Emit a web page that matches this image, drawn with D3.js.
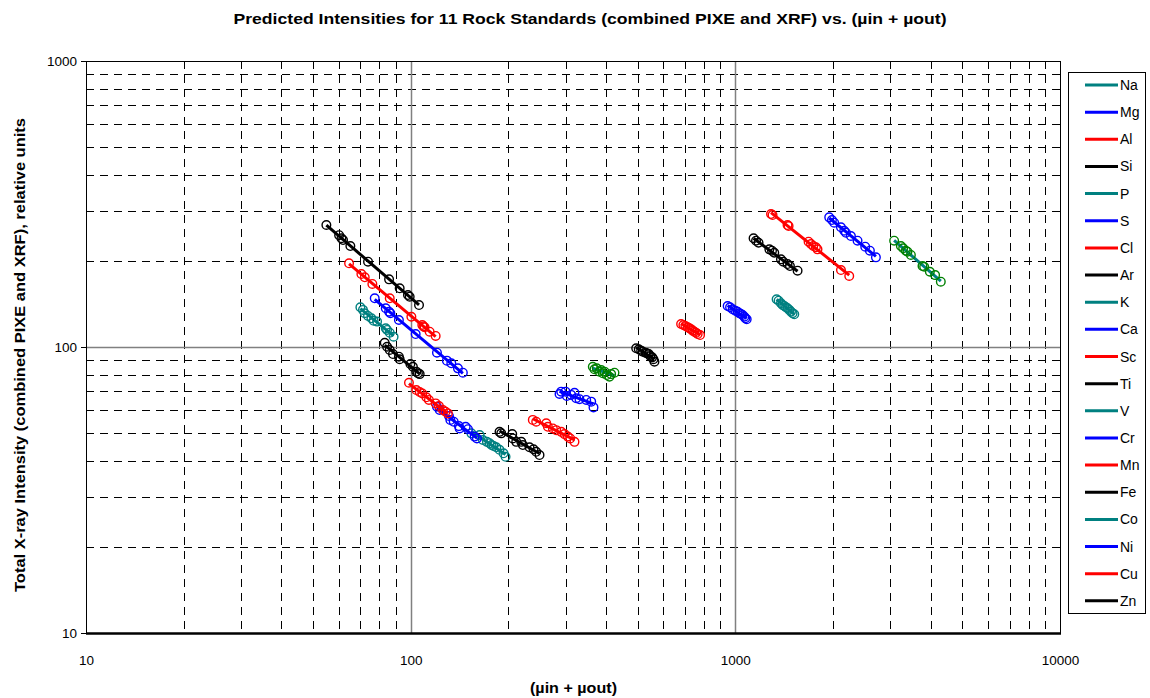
<!DOCTYPE html>
<html>
<head>
<meta charset="utf-8">
<script src="https://cdn.jsdelivr.net/npm/d3@7"></script>
<style>
  html, body { margin: 0; padding: 0; background: #fff; }
  svg { display: block; font-family: "Liberation Sans", Arial, sans-serif; }
</style>
</head>
<body>
<svg id="chart" width="1150" height="698"></svg>
<script>
// ---------------- DATA ----------------
const elements = ["Na","Mg","Al","Si","P","S","Cl","Ar","K","Ca","Sc","Ti","V","Cr","Mn","Fe","Co","Ni","Cu","Zn"];
const lineColors = ["#008080","#0000FF","#FF0000","#000000"];
const markerColorOverride = { "Na": "#008000", "K": "#008000" };

const xTickLabels = ["10","100","1000","10000"];
const yTickLabels = ["10","100","1000"];

// (µin + µout) values per element (11 rock standards)
const xNa = [3084,3235,3288,3351,3390,3473,3771,3816,3973,4124,4294];
const yNa = [235.3,225.4,221.3,217.1,215.4,209.8,191.9,190.8,183.3,178.4,169.2];
const xMg = [1946,1984,2016,2115,2165,2191,2270,2379,2512,2597,2710];
const yMg = [284,277.9,272,262.1,255,251,244.4,235.3,224.2,217.1,205.8];
const xAl = [1288,1302,1448,1459,1681,1710,1738,1771,1791,2115,2243];
const yAl = [291.7,289.3,266.9,264.8,233.4,229.1,225.4,223.1,219.5,185.8,177.1];
const xSi = [1138,1158,1179,1273,1297,1318,1382,1405,1448,1473,1555];
const ySi = [240,235.3,231.5,219.5,217.1,213.6,202.5,198.7,195,191.9,184.8];
const xP  = [1340,1359,1382,1398,1415,1432,1448,1466,1484,1501,1519];
const yP  = [146.9,145.2,142.2,140.2,139.1,137.7,136.6,134.8,132.9,131.2,130.2];
const xS  = [946.9,963.2,981.1,1000,1016,1029,1041,1053,1066,1074,1084];
const yS  = [139.1,137.7,135.5,134,132.9,131.2,130.5,129.4,127.6,126,125];
const xCl = [680.7,691.8,701.7,713.2,721.9,730.6,738.9,747.8,756.9,765.6,778.7];
const yCl = [120.3,119.4,118.4,117.2,116.3,115.3,114.1,113.1,112.2,111,110.1];
const xAr = [495,504.2,512.8,518.7,528.7,533.6,541.2,546.6,554.4,559.5,563.5];
const yAr = [99,98.2,97.1,96.3,95.5,95.1,94.5,93,92,90.6,88.8];
const xK  = [363.9,368.3,374.3,381.5,386.2,390.6,395.3,401.8,409.5,414.5,424.4];
const yK  = [85.3,83.6,84.2,82,83.1,80.9,82,79.8,78.7,80.4,81.3];
const xCa = [287.4,290.9,299.9,302.6,312.2,319.6,323.5,331.1,347.3,359.8,365.7];
const yCa = [68.5,69.8,69.8,67.4,68,69.2,66.2,65.7,65.3,64.4,61.5];
const xSc = [237.8,243.6,261.6,264.6,274.1,280.8,290.9,297.7,304.8,310,319.6];
const ySc = [55.6,54.8,54.1,52.6,51.9,51.2,50.5,49.6,48.6,47.9,46.6];
const xTi = [187.8,190.1,205.5,206.4,211.4,219.1,221.6,232.3,239,243.6,249.4];
const yTi = [50.5,49.9,49.6,47.9,46.6,46.6,45.4,44.6,43.9,43,41.9];
const xV  = [153.8,163.1,166.9,171.7,175,177.5,180,183.5,187.8,193.2,196];
const yV  = [49.9,49.2,47.3,46.6,46.1,45.4,45.1,44.6,43.7,42.5,41.3];
const xCr = [120.5,122.8,131.2,132.5,135.7,140.8,141.5,147.7,150.1,157.4,160];
const yCr = [61.8,60.2,57.4,55.6,54.8,52.9,51.9,52.6,51.6,48.6,47.9];
const xMn = [98.8,104.1,106.6,108.6,111.8,113.8,119.4,122.2,125.7,128.1,130.2];
const yMn = [75,70.7,69.6,68.8,66.7,65.3,63.5,62.2,60.2,59.4,58.6];
const xFe = [83.2,84.6,86.2,88.2,92,92.5,99.8,101.6,104.1,105.3,106.6];
const yFe = [103.5,100.2,97.6,94.5,92.5,90.6,87.2,85.3,82,80.9,80.4];
const xCo = [70,71.3,72.2,73.9,75.7,76.9,78.8,83.8,84.6,86.2,88.6];
const yCo = [137.7,134.8,131.2,128.4,126,123.6,122.7,116.3,114.7,112.2,108.6];
const xNi = [77.5,83.8,85.8,86.6,92,103.6,120.5,129.3,133.4,139.8,144.8];
const yNi = [148,136.6,132.9,131.2,124.3,111,95.5,89.6,87.7,84.2,81.3];
const xCu = [64.6,70.5,72.2,76.2,86.2,100.5,108.6,109.5,110.4,114.4,119.4];
const yCu = [196.2,180,175.3,166.1,148,127.6,119.4,118,117.2,113.1,109.3];
const xZn = [55,60.2,61.2,61.9,65.2,73.9,85.8,92.5,98.1,99.3,106.1];
const yZn = [267,246,240,236.6,225.4,198.7,172.4,160.4,151.9,149.9,140.2];

const seriesX = [xNa,xMg,xAl,xSi,xP,xS,xCl,xAr,xK,xCa,xSc,xTi,xV,xCr,xMn,xFe,xCo,xNi,xCu,xZn];
const seriesY = [yNa,yMg,yAl,ySi,yP,yS,yCl,yAr,yK,yCa,ySc,yTi,yV,yCr,yMn,yFe,yCo,yNi,yCu,yZn];

const titleText = "Predicted Intensities for 11 Rock Standards (combined PIXE and XRF) vs. (\u00b5in + \u00b5out)";
const xLabelText = "(\u00b5in + \u00b5out)";
const yLabelText = "Total X-ray Intensity (combined PIXE and XRF), relative units";

// ---------------- LAYOUT ----------------
const svg = d3.select("#chart");
const plot = { left: 86, right: 1060, top: 61, bottom: 633 };

const x = d3.scaleLog().domain([10, 10000]).range([plot.left, plot.right]);
const y = d3.scaleLog().domain([10, 1000]).range([plot.bottom, plot.top]);

// minor gridlines (dashed)
const minorVals = [];
[10, 100, 1000].forEach(d => { for (let k = 2; k <= 9; k++) minorVals.push(d * k); });
const minorY = [];
[10, 100].forEach(d => { for (let k = 2; k <= 9; k++) minorY.push(d * k); });

const grid = svg.append("g");
grid.selectAll("line.vx").data(minorVals).join("line")
  .attr("x1", d => Math.round(x(d)) + 0.5).attr("x2", d => Math.round(x(d)) + 0.5)
  .attr("y1", plot.top).attr("y2", plot.bottom)
  .attr("stroke", "#000").attr("stroke-width", 1).attr("stroke-dasharray", "8,6");
grid.selectAll("line.hy").data(minorY).join("line")
  .attr("y1", d => Math.round(y(d)) + 0.5).attr("y2", d => Math.round(y(d)) + 0.5)
  .attr("x1", plot.left).attr("x2", plot.right)
  .attr("stroke", "#000").attr("stroke-width", 1).attr("stroke-dasharray", "8,6");

// major gridlines (solid grey)
grid.selectAll("line.mx").data([100, 1000]).join("line")
  .attr("x1", d => Math.round(x(d)) + 0.5).attr("x2", d => Math.round(x(d)) + 0.5)
  .attr("y1", plot.top).attr("y2", plot.bottom)
  .attr("stroke", "#808080").attr("stroke-width", 1.5);
grid.selectAll("line.my").data([100]).join("line")
  .attr("y1", d => Math.round(y(d)) + 0.5).attr("y2", d => Math.round(y(d)) + 0.5)
  .attr("x1", plot.left).attr("x2", plot.right)
  .attr("stroke", "#808080").attr("stroke-width", 1.5);

// plot border
svg.append("rect")
  .attr("x", plot.left + 0.5).attr("y", plot.top + 0.5)
  .attr("width", plot.right - plot.left).attr("height", plot.bottom - plot.top)
  .attr("fill", "none").attr("stroke", "#000").attr("stroke-width", 1);
svg.append("line")
  .attr("x1", plot.left).attr("x2", plot.right + 1)
  .attr("y1", plot.bottom + 0.5).attr("y2", plot.bottom + 0.5)
  .attr("stroke", "#000").attr("stroke-width", 2.5);

// axes
const xAxis = d3.axisBottom(x).tickValues(xTickLabels.map(Number))
  .tickFormat((d, i) => xTickLabels[i]).tickSize(0).tickPadding(22);
const gx = svg.append("g").attr("transform", `translate(0,${plot.bottom})`).call(xAxis);
gx.select(".domain").remove();
gx.selectAll("text").attr("font-size", 13.5).attr("font-family", "Liberation Sans, Arial, sans-serif").attr("fill", "#000");

const yAxis = d3.axisLeft(y).tickValues(yTickLabels.map(Number))
  .tickFormat((d, i) => yTickLabels[i]).tickSize(5).tickPadding(4);
const gy = svg.append("g").attr("transform", `translate(${plot.left},0)`).call(yAxis);
gy.select(".domain").remove();
gy.selectAll("line").attr("stroke", "#000");
gy.selectAll("text").attr("font-size", 13.5).attr("font-family", "Liberation Sans, Arial, sans-serif").attr("fill", "#000");

// series
const series = elements.map((name, i) => ({
  name,
  color: lineColors[i % 4],
  marker: markerColorOverride[name] || lineColors[i % 4],
  pts: seriesX[i].map((xv, j) => ({ x: xv, y: seriesY[i][j] }))
}));

function fitLine(pts) {
  const lx = pts.map(p => Math.log10(p.x)), ly = pts.map(p => Math.log10(p.y));
  const mx = d3.mean(lx), my = d3.mean(ly);
  const b = d3.sum(lx.map((v, k) => (v - mx) * (ly[k] - my))) / d3.sum(lx.map(v => (v - mx) ** 2));
  const a = my - b * mx;
  const [x0, x1] = d3.extent(pts, p => p.x);
  return [x0, x1].map(v => ({ x: v, y: Math.pow(10, a + b * Math.log10(v)) }));
}

const line = d3.line().x(d => x(d.x)).y(d => y(d.y));
const gs = svg.append("g");
series.forEach(s => {
  const g = gs.append("g");
  g.append("path").attr("d", line(fitLine(s.pts)))
    .attr("fill", "none").attr("stroke", s.color).attr("stroke-width", 3);
  g.selectAll("circle").data(s.pts).join("circle")
    .attr("cx", d => x(d.x)).attr("cy", d => y(d.y)).attr("r", 4.3)
    .attr("fill", "none").attr("stroke", s.marker).attr("stroke-width", 1.4);
});

// title & labels
svg.append("text").attr("x", 590).attr("y", 24).attr("text-anchor", "middle")
  .attr("font-size", 15).attr("font-weight", "bold")
  .attr("textLength", 713).attr("lengthAdjust", "spacingAndGlyphs").text(titleText);
svg.append("text").attr("x", 573.5).attr("y", 693).attr("text-anchor", "middle")
  .attr("font-size", 15).attr("font-weight", "bold")
  .attr("textLength", 87).attr("lengthAdjust", "spacingAndGlyphs").text(xLabelText);
svg.append("text").attr("transform", "translate(25,355) rotate(-90)").attr("text-anchor", "middle")
  .attr("font-size", 15).attr("font-weight", "bold")
  .attr("textLength", 474).attr("lengthAdjust", "spacingAndGlyphs").text(yLabelText);

// legend
const lg = svg.append("g");
lg.append("rect").attr("x", 1068.5).attr("y", 72.5).attr("width", 77).attr("height", 541)
  .attr("fill", "#fff").attr("stroke", "#000").attr("stroke-width", 1);
const ly0 = 85, lstep = 27.15;
series.forEach((s, i) => {
  const yy = ly0 + i * lstep;
  lg.append("line").attr("x1", 1085).attr("x2", 1118).attr("y1", yy).attr("y2", yy)
    .attr("stroke", s.color).attr("stroke-width", 3);
  lg.append("text").attr("x", 1120).attr("y", yy).attr("dy", "0.36em")
    .attr("font-size", 14).text(s.name);
});
</script>
</body>
</html>
